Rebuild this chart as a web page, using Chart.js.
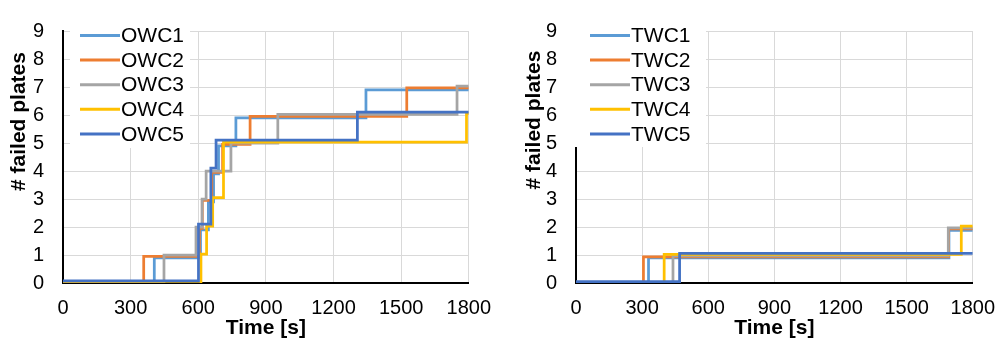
<!DOCTYPE html>
<html>
<head>
<meta charset="utf-8">
<script src="https://cdn.jsdelivr.net/npm/chart.js@4"></script>
<style>
html, body { margin: 0; padding: 0; background: #fff; }
#wrap { position: relative; width: 1008px; height: 341px; }
.box { position: absolute; top: 0; width: 504px; height: 341px; }
</style>
</head>
<body>
<div id="wrap">
  <div class="box" style="left:0"><canvas id="owc" width="504" height="341"></canvas></div>
  <div class="box" style="left:504px"><canvas id="twc" width="504" height="341"></canvas></div>
</div>
<script>
// time [s] / number of failed plates (small offsets keep lines apart)
const OWC1 = [[0, 0], [405, 0.9], [610, 1.9], [645, 2.9], [668, 3.9], [690, 4.9], [767, 5.9], [1344, 6.9], [1800, 6.9]];
const OWC2 = [[0, 0], [358, 0.95], [605, 1.95], [618, 2.95], [660, 3.95], [708, 4.95], [830, 5.95], [1525, 6.97], [1800, 6.97]];
const OWC3 = [[0, 0], [448, 1], [590, 2], [617, 3], [635, 4], [745, 5], [953, 6.02], [1748, 7.03], [1800, 7.03]];
const OWC4 = [[0, -0.02], [612, 1.03], [637, 2.03], [664, 3.05], [712, 5.03], [1790, 6.05], [1800, 6.05]];
const OWC5 = [[0, 0.08], [601, 2.1], [656, 4.1], [679, 5.1], [1306, 6.1], [1800, 6.1]];

const TWC1 = [[0, 0], [329, 0.9], [1692, 1.88], [1800, 1.88]];
const TWC2 = [[0, 0], [306, 0.93], [1690, 1.93], [1800, 1.93]];
const TWC3 = [[0, -0.02], [440, 0.97], [1689, 1.97], [1800, 1.97]];
const TWC4 = [[0, 0], [400, 1.02], [1748, 2.03], [1800, 2.03]];
const TWC5 = [[0, 0.05], [470, 1.06], [1800, 1.06]];

const owcLabels = ['OWC1', 'OWC2', 'OWC3', 'OWC4', 'OWC5'];
const twcLabels = ['TWC1', 'TWC2', 'TWC3', 'TWC4', 'TWC5'];
const colors = ['#5B9BD5', '#ED7D31', '#A5A5A5', '#FFC000', '#4472C4'];

const FONT = '"Liberation Sans", Arial, sans-serif';

// legend drawn inside the plot area, like the Excel one
const insideLegend = {
    id: 'insideLegend',
    afterDraw(chart, args, opts) {
        const ctx = chart.ctx;
        ctx.save();
        ctx.fillStyle = '#fff';
        ctx.fillRect(opts.box[0], opts.box[1], opts.box[2], opts.box[3]);
        ctx.font = '21px ' + FONT;
        ctx.textBaseline = 'middle';
        chart.data.datasets.forEach((ds, i) => {
            const y = opts.y0 + i * opts.dy;
            ctx.strokeStyle = ds.borderColor;
            ctx.lineWidth = 3;
            ctx.beginPath();
            ctx.moveTo(opts.x0, y);
            ctx.lineTo(opts.x0 + 40, y);
            ctx.stroke();
            ctx.fillStyle = '#000';
            ctx.fillText(ds.label, opts.x0 + 41, y + 1);
        });
        ctx.restore();
    }
};

// y title sits a bit above the middle of the axis in the original
const yTitle = {
    id: 'yTitle',
    afterDraw(chart, args, opts) {
        const ctx = chart.ctx;
        ctx.save();
        ctx.translate(opts.x, opts.y);
        ctx.rotate(-Math.PI / 2);
        ctx.font = 'bold 21px ' + FONT;
        ctx.fillStyle = '#000';
        ctx.textAlign = 'center';
        ctx.textBaseline = 'middle';
        ctx.fillText(opts.text, 0, 0);
        ctx.restore();
    }
};

function makeChart(id, series, labels, yWidth, padRight, legendOpts, titleOpts) {
    const datasets = series.map((s, i) => ({
        label: labels[i],
        data: s.map(([x, y]) => ({ x, y })),
        borderColor: colors[i],
        backgroundColor: colors[i],
        borderWidth: 2.75,
        stepped: true,
        pointRadius: 0,
        fill: false,
        order: series.length - 1 - i
    }));
    return new Chart(document.getElementById(id), {
        type: 'line',
        data: { datasets },
        options: {
            responsive: false,
            animation: false,
            layout: { padding: { left: 0, right: padRight, top: 18, bottom: 0 } },
            scales: {
                x: {
                    type: 'linear', min: 0, max: 1800,
                    ticks: { stepSize: 300, color: '#000', font: { size: 20, family: FONT }, padding: 13, maxRotation: 0,
                        callback: v => String(v) },
                    grid: { color: '#d9d9d9', lineWidth: 1, drawTicks: false },
                    border: { color: '#000', width: 2 },
                    title: { display: true, text: 'Time [s]', color: '#000', font: { size: 21, weight: 'bold', family: FONT }, padding: { top: 0, bottom: 0 } },
                    afterFit(s) { s.height = 58; }
                },
                y: {
                    min: 0, max: 9,
                    ticks: { stepSize: 1, color: '#000', font: { size: 20, family: FONT }, padding: 19 },
                    grid: { color: '#d9d9d9', lineWidth: 1, drawTicks: false },
                    border: { color: '#000', width: 2 },
                    afterFit(s) { s.width = yWidth; }
                }
            },
            plugins: {
                legend: { display: false },
                tooltip: { enabled: false },
                insideLegend: legendOpts,
                yTitle: titleOpts
            }
        },
        plugins: [insideLegend, yTitle]
    });
}

makeChart('owc', [OWC1, OWC2, OWC3, OWC4, OWC5], owcLabels, 63, 33,
    { box: [70, 20, 120, 128], x0: 80, y0: 35.5, dy: 24.6 },
    { x: 19.5, y: 121.5, text: '# failed plates' });

makeChart('twc', [TWC1, TWC2, TWC3, TWC4, TWC5], twcLabels, 72, 24,
    { box: [71, 18, 131, 129], x0: 86, y0: 35.5, dy: 24.6 },
    { x: 30, y: 120, text: '# failed plates' });
</script>
</body>
</html>
